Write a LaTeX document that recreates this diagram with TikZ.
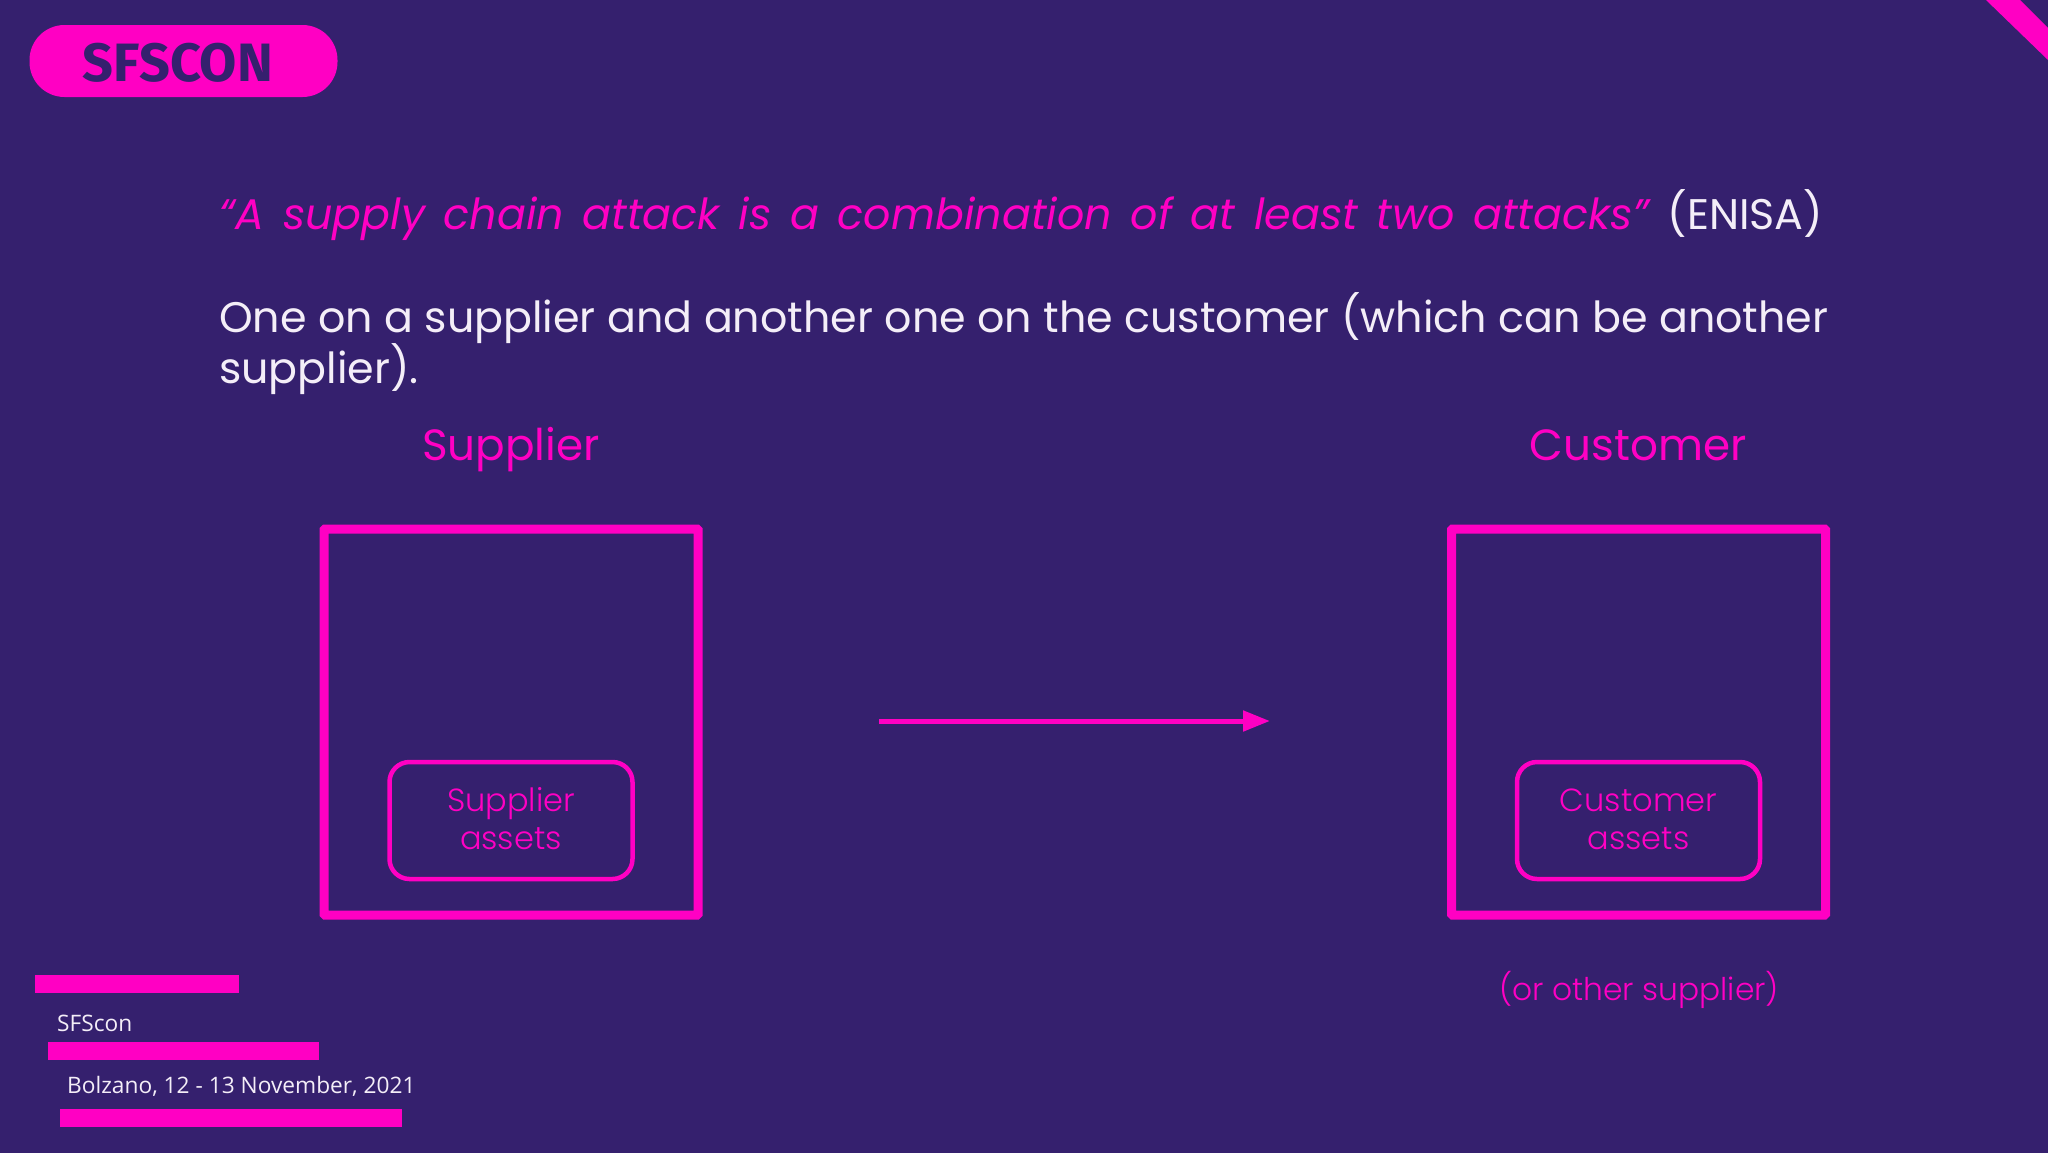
\documentclass[tikz,border=0pt]{standalone}
\usepackage{fontspec}
\setmainfont{Poppins}
\newfontfamily\poplight{Poppins Light}
\newfontfamily\opensans{Open Sans}
\newfontfamily\firab{Fira Sans}
\usetikzlibrary{arrows.meta}
\definecolor{bgc}{HTML}{35206E}
\definecolor{pnk}{HTML}{FF00C3}
\definecolor{wht}{HTML}{F4EEF8}
\tikzset{
  x=1pt,y=-1pt,
  bar/.style={fill=pnk,draw=none},
  bigbox/.style={draw=pnk,line width=9pt,fill=none,rounded corners=1pt},
  assetbox/.style={draw=pnk,line width=4.5pt,rounded corners=20pt,align=center,text=pnk,
     minimum width=243pt,minimum height=117pt,inner sep=0pt},
  assettext/.style={align=center,text=pnk,inner sep=0pt,font=\poplight\fontsize{32}{38}\selectfont},
  head/.style={text=pnk,anchor=base,inner sep=0pt,font=\fontsize{43.7}{48}\selectfont},
  body/.style={text=wht,anchor=base west,inner sep=0pt,font=\fontsize{42.8}{48}\selectfont},
  foot/.style={text=wht,anchor=base west,inner sep=0pt,font=\opensans\fontsize{22.7}{28}\selectfont},
  conn/.style={draw=pnk,line width=5pt,-{Triangle[length=27pt,width=20pt]}}
}
\begin{document}
\begin{tikzpicture}
\useasboundingbox (0,0) rectangle (2048,1152);
\fill[bgc] (-3,-3) rectangle (2051,1155);
% corner band
\fill[pnk] (1986,0) -- (2020,0) -- (2048,28) -- (2048,60) -- cycle;
% logo
\node[fill=pnk,rounded corners=35pt,minimum width=308pt,minimum height=72pt,inner sep=0pt] (logo) at (183.5,61) {};
\node[anchor=base,inner sep=0pt,text=bgc,font=\firab\bfseries\fontsize{54}{54}\selectfont] (logotext) at (178,81) {SFSCON};
% texts
\node[body] (quote) at (219,229) {\spaceskip=18.7pt{\color{pnk}\itshape “A supply chain attack is a combination of at least two attacks”} (ENISA)};
\node[body] (l1) at (219,332) {One on a supplier and another one on the customer (which can be another};
\node[body] (l2) at (219,383) {supplier).};
\node[head] (suplabel) at (511,460) {Supplier};
\node[head] (cuslabel) at (1638,460) {Customer};
% boxes
\node[bigbox,minimum width=374pt,minimum height=386pt,inner sep=0pt] (sup) at (511,722) {};
\node[bigbox,minimum width=374pt,minimum height=386pt,inner sep=0pt] (cus) at (1638.5,722) {};
\node[assetbox] (sa) at (511,820.5) {};
\node[assetbox] (ca) at (1638.5,820.5) {};
\node[assettext] (satext) at (511,819) {Supplier\\assets};
\node[assettext] (catext) at (1638.5,819) {Customer\\assets};
\coordinate (arrS) at (879,721);
\coordinate (arrE) at (1270,721);
\draw[conn] (arrS) -- (arrE);
\node[anchor=base,inner sep=0pt,text=pnk,font=\poplight\fontsize{31.3}{38}\selectfont] (other) at (1639,1000) {(or other supplier)};
% footer
\fill[bar] (35,975) rectangle (239,993);
\fill[bar] (47.5,1042) rectangle (319,1060);
\fill[bar] (60,1109) rectangle (402,1127);
\node[foot] (f1) at (57,1031) {SFScon};
\node[foot] (f2) at (67,1093) {Bolzano, 12 - 13 November, 2021};
\end{tikzpicture}
\end{document}
